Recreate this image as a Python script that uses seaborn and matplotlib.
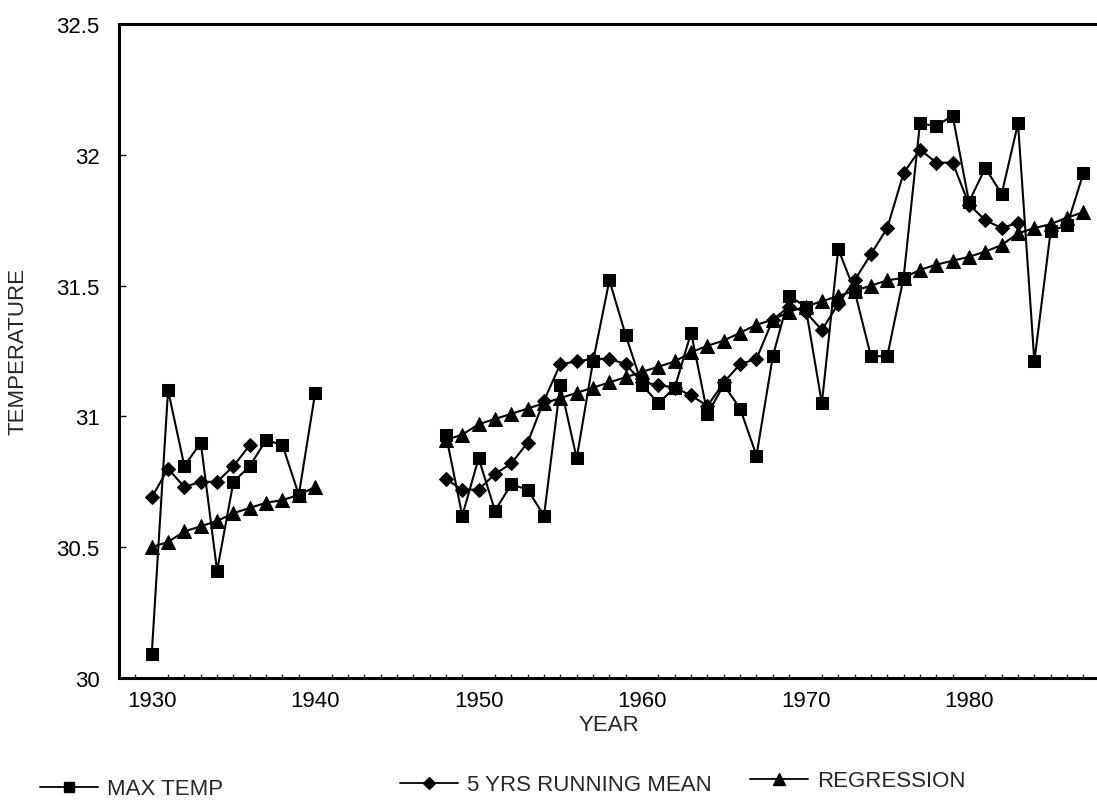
import numpy as np
import pandas as pd
import matplotlib
matplotlib.use("Agg")
import matplotlib.pyplot as plt
from matplotlib.lines import Line2D
from matplotlib.ticker import MultipleLocator, FixedLocator
import seaborn as sns

# ---------------- data ----------------
years_a = list(range(1930, 1941))
max_temp_a = [30.09, 31.10, 30.81, 30.90, 30.41, 30.75, 30.81, 30.91, 30.89, 30.70, 31.09]
mean_years_a = list(range(1930, 1937))
run_mean_a = [30.69, 30.80, 30.73, 30.75, 30.75, 30.81, 30.89]
regression_a = [30.50, 30.52, 30.56, 30.58, 30.60, 30.63, 30.65, 30.67, 30.68, 30.70, 30.73]

years_b = list(range(1948, 1988))
max_temp_b = [30.93, 30.62, 30.84, 30.64, 30.74, 30.72, 30.62, 31.12, 30.84, 31.21,
              31.52, 31.31, 31.12, 31.05, 31.11, 31.32, 31.01, 31.12, 31.03, 30.85,
              31.23, 31.46, 31.42, 31.05, 31.64, 31.48, 31.23, 31.23, 31.53, 32.12,
              32.11, 32.15, 31.82, 31.95, 31.85, 32.12, 31.21, 31.71, 31.73, 31.93]
mean_years_b = list(range(1948, 1984))
run_mean_b = [30.76, 30.72, 30.72, 30.78, 30.82, 30.90, 31.06, 31.20, 31.21, 31.22,
              31.22, 31.20, 31.13, 31.12, 31.11, 31.08, 31.04, 31.13, 31.20, 31.22,
              31.37, 31.42, 31.40, 31.33, 31.43, 31.52, 31.62, 31.72, 31.93, 32.02,
              31.97, 31.97, 31.81, 31.75, 31.72, 31.74]
regression_b = [30.91, 30.93, 30.97, 30.99, 31.01, 31.03, 31.05, 31.07, 31.09, 31.11,
                31.13, 31.15, 31.17, 31.19, 31.21, 31.245, 31.27, 31.29, 31.32, 31.35,
                31.37, 31.40, 31.42, 31.44, 31.46, 31.48, 31.50, 31.52, 31.53, 31.56,
                31.58, 31.595, 31.61, 31.63, 31.655, 31.70, 31.72, 31.735, 31.76, 31.78]

series_labels = ["MAX TEMP", "5 YRS RUNNING MEAN", "REGRESSION"]
x_ticks = [1930, 1940, 1950, 1960, 1970, 1980]
y_ticks = [30, 30.5, 31, 31.5, 32, 32.5]
y_tick_labels = ["30", "30.5", "31", "31.5", "32", "32.5"]

# ---------------- frame ----------------
def seg(years, vals, name, segid):
    return pd.DataFrame({"year": years, "temp": vals, "series": name, "segment": segid})

df_max = pd.concat([seg(years_a, max_temp_a, series_labels[0], 0),
                    seg(years_b, max_temp_b, series_labels[0], 1)])
df_mean = pd.concat([seg(mean_years_a, run_mean_a, series_labels[1], 0),
                     seg(mean_years_b, run_mean_b, series_labels[1], 1)])
df_reg = pd.concat([seg(years_a, regression_a, series_labels[2], 0),
                    seg(years_b, regression_b, series_labels[2], 1)])

sns.set_style("white")
plt.rcParams["font.family"] = ["Liberation Sans", "DejaVu Sans"]

fig = plt.figure(figsize=(10.97, 8.04), dpi=100)
ax = fig.add_axes([0.1085, 0.1555, 0.894, 0.8134])

lw = 1.5
common = dict(x="year", y="temp", units="segment", estimator=None, color="black",
              linewidth=lw, legend=False, ax=ax, markeredgecolor="black")
sns.lineplot(data=df_reg, marker="^", markersize=10, **common)
sns.lineplot(data=df_mean, marker="D", markersize=7.5, **common)
sns.lineplot(data=df_max, marker="s", markersize=9, **common)

ax.set_xlim(1928, 1988)
ax.set_ylim(30, 32.5)
ax.xaxis.set_major_locator(FixedLocator(x_ticks))
ax.xaxis.set_minor_locator(MultipleLocator(1))
ax.set_yticks(y_ticks)
ax.set_yticklabels(y_tick_labels)

ax.tick_params(axis="x", which="major", direction="in", length=6, width=1,
               labelsize=16, pad=9, colors="black")
ax.tick_params(axis="x", which="minor", direction="in", length=3, width=1, bottom=True)
ax.tick_params(axis="y", which="major", direction="in", length=5, width=1,
               labelsize=16, pad=14, colors="black", left=True)

for side in ["left", "bottom", "top", "right"]:
    ax.spines[side].set_visible(True)
    ax.spines[side].set_color("black")
    ax.spines[side].set_linewidth(2.2)

ax.set_xlabel("YEAR", fontsize=16, labelpad=2)
ax.set_ylabel("TEMPERATURE", fontsize=16, labelpad=20)
ax.grid(False)

# ---------------- legend ----------------
markers = ["s", "D", "^"]
msizes = [7, 6, 8]
xs = [40, 400, 750]
ys = [790, 786, 782]
for lab, mk, ms, x0, y0 in zip(series_labels, markers, msizes, xs, ys):
    h = Line2D([], [], color="black", marker=mk, markersize=ms, linewidth=1.3)
    fig.legend(handles=[h], labels=[lab], loc="center left",
               bbox_to_anchor=(x0 / 1097, 1 - y0 / 804), frameon=False,
               handlelength=2.6, handletextpad=0.4, borderpad=0, borderaxespad=0,
               fontsize=16)

fig.savefig("out.png", dpi=100)
